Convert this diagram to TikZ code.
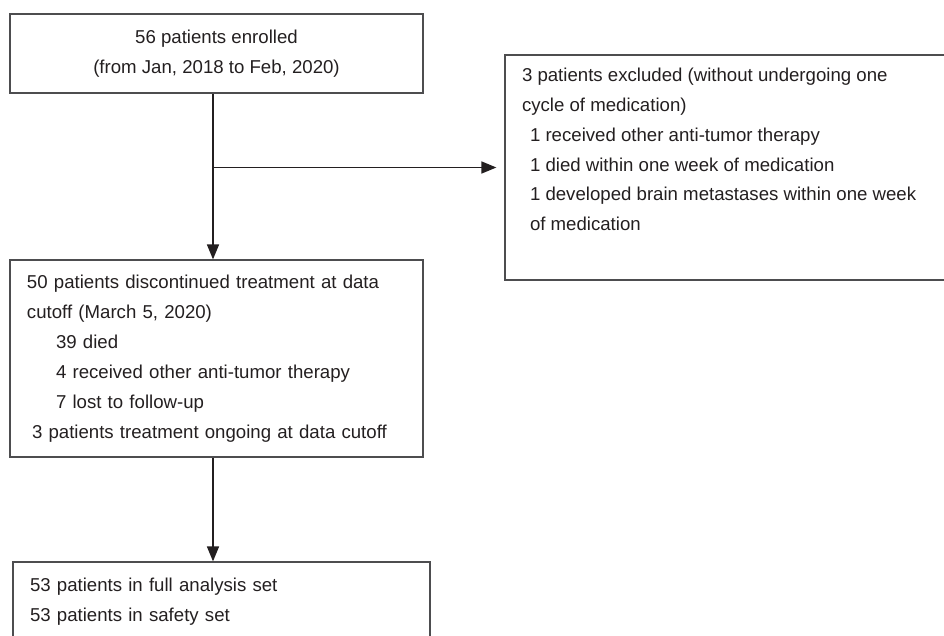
\documentclass[tikz,border=0pt]{standalone}
\usepackage{fontspec}
\setmainfont{Liberation Sans}
\usepackage{xcolor}
\usetikzlibrary{positioning}
\usetikzlibrary{arrows.meta}
\definecolor{textgray}{HTML}{231F20}
\definecolor{linegray}{HTML}{4D4D4F}
\tikzset{%
  block/.style    = {draw=linegray, line width=0.7pt, rectangle, text=textgray,
    inner xsep=0.34cm, inner ysep=0pt, font=\fontsize{10.6}{17}\selectfont},
  leftblock/.style = {block, align=left, text width=7.58cm}, % Left aligned
  flow/.style     = {->, line width=0.9pt, draw=textgray} % Connector
}

\begin{document}
\begin{tikzpicture}[auto, >={Triangle[length=0.3cm, width=0.24cm]}]

	\clip (0,0) rectangle (18.88,-12.7);

	\draw node at (4.33,-1.07) [block, align=center, minimum width=8.26cm, minimum height=1.58cm] (enrolled) {56 patients enrolled\\(from Jan, 2018 to Feb, 2020)};
	\draw node [leftblock, minimum height=3.94cm, below of=enrolled, node distance = 6.1cm] (discont) {50 patients discontinued treatment at data\\cutoff (March 5, 2020)\\\hspace*{0.58cm}39 died\\\hspace*{0.58cm}4 received other anti-tumor therapy\\\hspace*{0.58cm}7 lost to follow-up\\\hspace*{0.1cm}3 patients treatment ongoing at data cutoff};
	\draw node [leftblock, text width=7.66cm, minimum height=1.6cm, below of=discont, node distance = 4.87cm, xshift=0.1cm] (analysis) {53 patients in full analysis set\\53 patients in safety set};

	\draw node at (14.7,-3.35) [block, inner ysep=0.26cm] (excluded) {\parbox[c][3.98cm][t]{8.52cm}{\raggedright 3 patients excluded (without undergoing one\\cycle of medication)\\\hspace*{0.16cm}1 received other anti-tumor therapy\\\hspace*{0.16cm}1 died within one week of medication\\\hspace*{0.16cm}1 developed brain metastases within one week\\\hspace*{0.16cm}of medication}};

	\coordinate (bp) at ([xshift=-0.07cm]enrolled.south |- excluded.west);

	\draw[flow] ([xshift=-0.07cm]enrolled.south) -- ([xshift=-0.07cm]discont.north);
	\draw[flow, shorten >=0.16cm] (bp) -- (excluded.west);
	\draw[flow] ([xshift=-0.07cm]discont.south) -- ([xshift=-0.07cm]discont.south |- analysis.north);

\end{tikzpicture}
\end{document}
